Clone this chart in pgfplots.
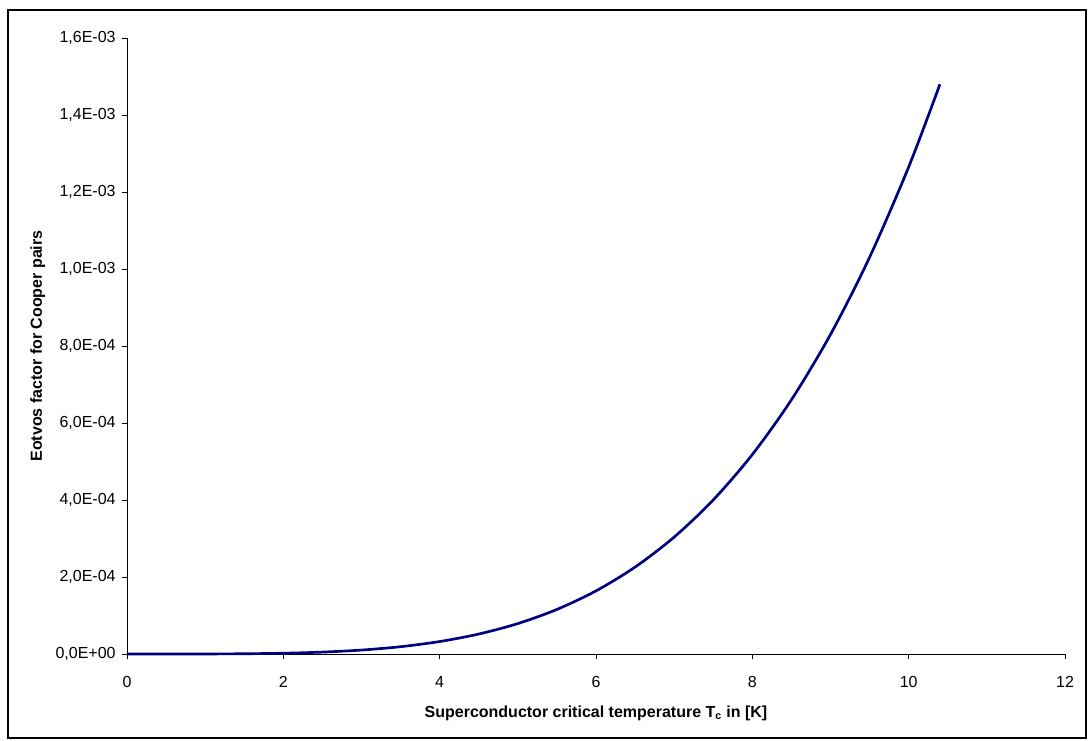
\documentclass[border=0pt]{standalone}
\usepackage{pgfplots}
\pgfplotsset{compat=1.18}
\usepackage{fontspec}
\setmainfont{Liberation Sans}
\definecolor{curve}{RGB}{0,0,128}

\begin{document}
\begin{tikzpicture}[x=0.75pt,y=0.75pt]
\path[use as bounding box] (-127,-86) rectangle (961,654);
\begin{axis}[
    at={(0,0)}, anchor=origin,
    scale only axis,
    width=703.5pt, height=462pt,
    xmin=0, xmax=12, ymin=0, ymax=1.6e-3,
    axis lines*=left,
    axis line style={black, line width=0.6pt},
    tick align=outside,
    major tick length=4pt,
    tick style={black, line width=0.6pt},
    xtick={0,2,...,12},
    xticklabels={0,2,4,6,8,10,12},
    ytick={0,2e-4,4e-4,6e-4,8e-4,1e-3,1.2e-3,1.4e-3,1.6e-3},
    yticklabels={{0,0E+00},{2,0E-04},{4,0E-04},{6,0E-04},{8,0E-04},{1,0E-03},{1,2E-03},{1,4E-03},{1,6E-03}},
    scaled y ticks=false,
    tick label style={font=\fontsize{12}{14}\selectfont},
    xticklabel style={yshift=-9pt},
    yticklabel style={xshift=-1pt},
    xlabel={\textbf{Superconductor critical temperature T\textsubscript{c} in [K]}},
    ylabel={\textbf{Eotvos factor for Cooper pairs}},
    label style={font=\fontsize{12}{14}\selectfont},
    xlabel style={yshift=-7pt},
    ylabel style={yshift=1pt},
    clip=false,
]
\addplot[curve, line width=2pt, smooth] coordinates {
    (0,0) (0.5,7.9e-9) (1,1.265e-7) (1.5,6.4e-7) (2,2.02e-6) (2.5,4.94e-6)
    (3,1.025e-5) (3.5,1.898e-5) (4,3.238e-5) (4.5,5.187e-5) (5,7.906e-5)
    (5.5,1.1576e-4) (6,1.6394e-4) (6.5,2.2581e-4) (7,3.0373e-4) (7.5,4.0025e-4)
    (8,5.1814e-4) (8.5,6.6034e-4) (9,8.2997e-4) (9.5,1.03035e-3) (10,1.265e-3)
    (10.4,1.4799e-3)
};
\end{axis}
\draw[black, line width=1.2pt] (-119,-84) rectangle (959,644);
\end{tikzpicture}
\end{document}
